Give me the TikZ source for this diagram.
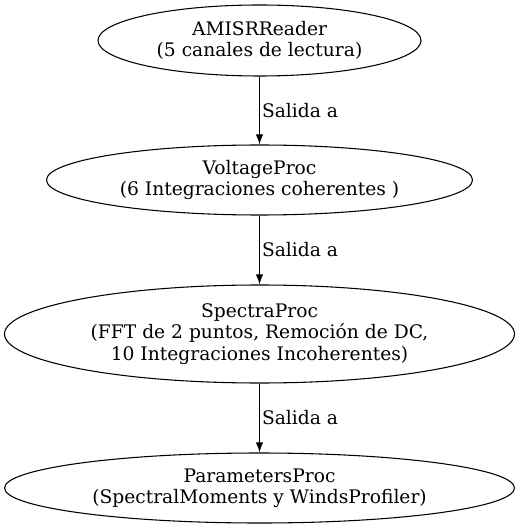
\documentclass[tikz,border=0pt]{standalone}
\usepackage{fontspec}
\setmainfont{DejaVu Serif}
\usetikzlibrary{shapes.geometric,arrows.meta}
\tikzstyle{proc}=[ellipse,draw,line width=0.8pt,inner sep=0pt,align=center,font=\fontsize{14pt}{16pt}\selectfont]
\tikzstyle{flow}=[anchor=west,inner sep=1.5pt,font=\fontsize{14pt}{16pt}\selectfont]

\begin{document}
\begin{tikzpicture}[x=0.75pt,y=-0.75pt,>={Latex[length=7.5pt,width=5.5pt]}]
\useasboundingbox (0,0) rectangle (520,530);
\node[proc,minimum width=242.25pt,minimum height=53.25pt] at (259.5, 40.5) (reader) {AMISRReader\\(5 canales de lectura)};
\node[proc,minimum width=319.5pt,minimum height=52.5pt] at (259.5, 180) (voltage) {VoltageProc\\(6 Integraciones coherentes )};
\node[proc,minimum width=382.5pt,minimum height=73.5pt] at (259.5, 334) (spectra) {SpectraProc\\(FFT de 2 puntos, Remoción de DC,\\10 Integraciones Incoherentes)};
\node[proc,minimum width=382.5pt,minimum height=52.5pt] at (259.5, 488) (params) {ParametersProc\\(SpectralMoments y WindsProfiler)};
\draw[->, line width=0.8pt] (reader) edge node[flow] {Salida a} (voltage);
\draw[->, line width=0.8pt] (voltage) edge node[flow] {Salida a} (spectra);
\draw[->, line width=0.8pt] (spectra) edge node[flow] {Salida a} (params);
\end{tikzpicture}
\end{document}
